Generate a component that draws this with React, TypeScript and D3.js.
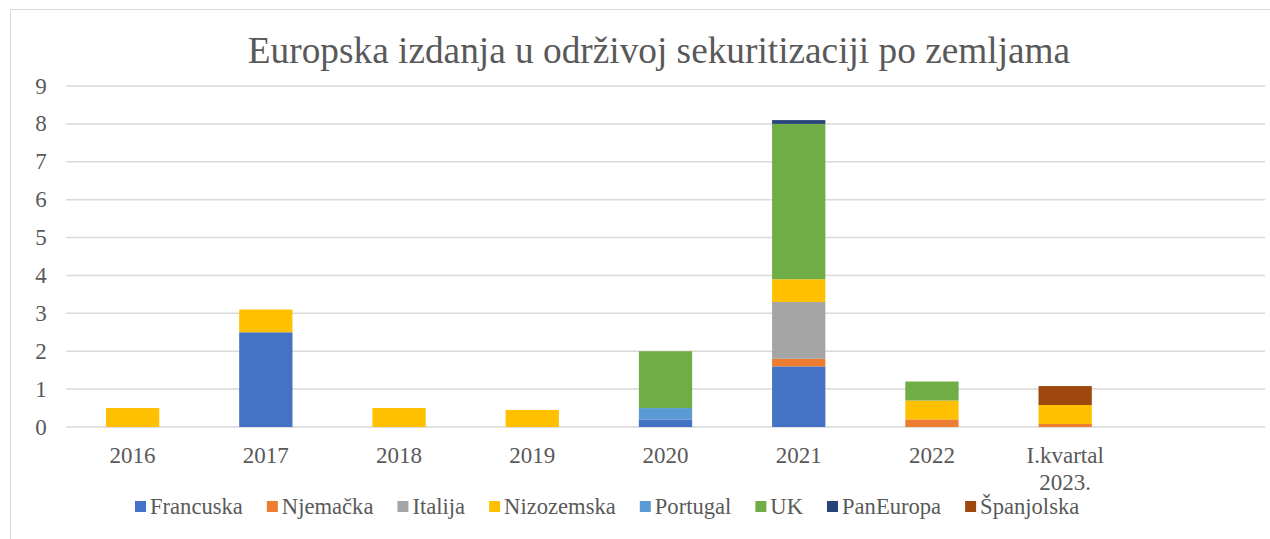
import React, { useMemo } from "react";
import * as d3 from "d3";

const categories = ["2016", "2017", "2018", "2019", "2020", "2021", "2022", "I.kvartal\n2023.", ""];
const seriesNames = ["Francuska", "Njemačka", "Italija", "Nizozemska", "Portugal", "UK", "PanEuropa", "Španjolska"];
const francuska = [0, 2.5, 0, 0, 0.2, 1.6, 0, 0, 0];
const njemacka = [0, 0, 0, 0, 0, 0.2, 0.2, 0.08, 0];
const italija = [0, 0, 0, 0, 0, 1.5, 0, 0, 0];
const nizozemska = [0.5, 0.6, 0.5, 0.45, 0, 0.6, 0.5, 0.5, 0];
const portugal = [0, 0, 0, 0, 0.3, 0, 0, 0, 0];
const uk = [0, 0, 0, 0, 1.5, 4.1, 0.5, 0, 0];
const panEuropa = [0, 0, 0, 0, 0, 0.1, 0, 0, 0];
const spanjolska = [0, 0, 0, 0, 0, 0, 0, 0.5, 0];
const yTicks = [0, 1, 2, 3, 4, 5, 6, 7, 8, 9];
const title = "Europska izdanja u održivoj sekuritizaciji po zemljama";

const seriesValues = [francuska, njemacka, italija, nizozemska, portugal, uk, panEuropa, spanjolska];
const colors = ["#4472C4", "#ED7D31", "#A5A5A5", "#FFC000", "#5B9BD5", "#70AD47", "#264478", "#9E480E"];

const FONT = "'Liberation Serif', 'Times New Roman', serif";
const TEXT = "#595959";

export default function App() {
  const W = 1270, H = 539;
  const left = 66, right = 1265, top = 86, bottom = 427;

  const x = d3.scaleBand<number>().domain(categories.map((_, i) => i)).range([left, right]).paddingInner(0.6).paddingOuter(0.3);
  const y = d3.scaleLinear().domain([0, 9]).range([bottom, top]);

  const rows = categories.map((c, i) => {
    const r: any = { idx: i };
    seriesNames.forEach((s, k) => (r[s] = seriesValues[k][i]));
    return r;
  });
  const stacked = d3.stack<any>().keys(seriesNames)(rows);

  const legendFont = 22.6;
  const legend = useMemo(() => {
    const canvas = document.createElement("canvas");
    const ctx = canvas.getContext("2d")!;
    ctx.font = `${legendFont}px ${FONT}`;
    let cx = 135;
    return seriesNames.map((s, i) => {
      const w = ctx.measureText(s).width;
      const item = { name: s, color: colors[i], x: cx };
      cx += 11 + 4 + w + 24;
      return item;
    });
  }, []);

  return (
    <svg width={W} height={H} style={{ position: "absolute", left: 0, top: 0, background: "#fff" }} fontFamily={FONT}>
      <rect x={10.5} y={9.5} width={W + 20} height={H + 20} fill="#fff" stroke="#d9d9d9" strokeWidth={1} />
      <text x={659} y={63} textAnchor="middle" fontSize={37.3} fill={TEXT}>{title}</text>
      {yTicks.map((t) => (
        <g key={t}>
          <line x1={left} x2={right} y1={y(t)} y2={y(t)} stroke="#d9d9d9" strokeWidth={1.5} />
          <text x={41} y={y(t) + 7.5} textAnchor="middle" fontSize={23} fill={TEXT}>{t}</text>
        </g>
      ))}
      {stacked.map((layer, k) => (
        <g key={layer.key} fill={colors[k]}>
          {layer.map((d, i) =>
            d[1] - d[0] > 0 ? (
              <rect key={i} x={x(i)} width={x.bandwidth()} y={y(d[1])} height={y(d[0]) - y(d[1])} />
            ) : null
          )}
        </g>
      ))}
      {categories.map((c, i) => {
        const lines = c.split("\n");
        return (
          <text key={i} x={(x(i) as number) + x.bandwidth() / 2} y={463} textAnchor="middle" fontSize={23} fill={TEXT}>
            {lines.map((l, j) => (
              <tspan key={j} x={(x(i) as number) + x.bandwidth() / 2} dy={j === 0 ? 0 : 27}>{l}</tspan>
            ))}
          </text>
        );
      })}
      {legend.map((it) => (
        <g key={it.name}>
          <rect x={it.x} y={501} width={11} height={11} fill={it.color} />
          <text x={it.x + 15} y={514} fontSize={legendFont} fill={TEXT}>{it.name}</text>
        </g>
      ))}
    </svg>
  );
}
